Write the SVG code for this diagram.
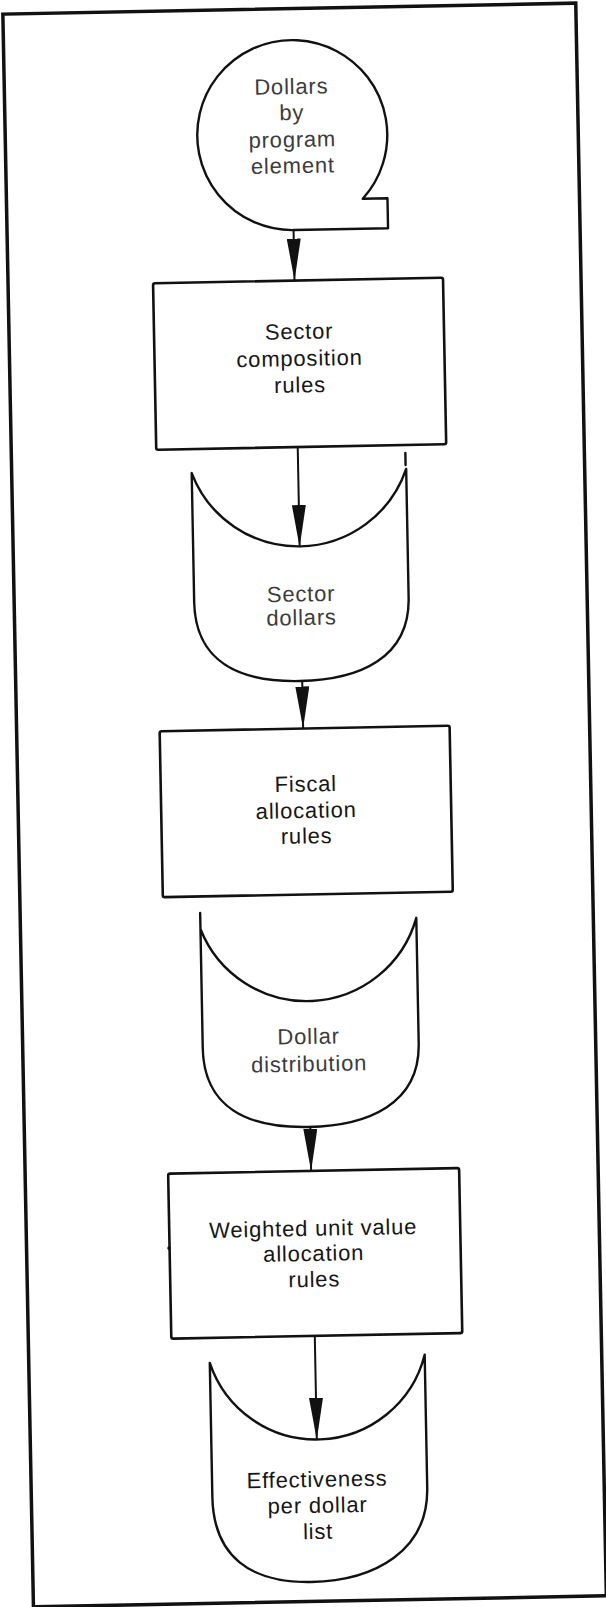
<svg xmlns="http://www.w3.org/2000/svg" width="606" height="1607" viewBox="0 0 606 1607">
  <style>
    .ln { fill: none; stroke: #111; stroke-width: 2.4; stroke-linejoin: round; stroke-linecap: round; }
    .box { fill: none; stroke: #111; stroke-width: 2.6; }
    .frame { fill: none; stroke: #111; stroke-width: 3.5; }
    .arrow { stroke: #111; stroke-width: 2; marker-end: url(#ah); }
    .t { font-family: "Liberation Sans", Arial, sans-serif; font-size: 22px; letter-spacing: 0.8px; text-anchor: middle; fill: #161616; }
    .g { fill: #3c3c3c; }
  </style>
  <defs>
    <marker id="ah" viewBox="0 0 42 14" refX="42" refY="7" markerWidth="42" markerHeight="14" markerUnits="userSpaceOnUse" orient="auto">
      <path d="M0,0 L42,7 L0,14 Z" fill="#111"/>
    </marker>
  </defs>

  <rect x="0" y="0" width="606" height="1607" fill="#fff"/>

  <!-- whole sheet sits slightly skewed on the page -->
  <g transform="rotate(-1.1 303 800)">
    <rect class="frame" x="18" y="8.5" width="573" height="1593"/>

    <!-- magnetic tape: dollars by program element -->
    <g id="tape-dollars">
      <path class="ln" d="M374.3,200 L399,200 L399,230 L305,230 A95,95 0 1,1 374.3,200 Z"/>
      <text class="t g" x="305" y="94">Dollars</text>
      <text class="t g" x="305" y="120">by</text>
      <text class="t g" x="305" y="147">program</text>
      <text class="t g" x="305" y="173">element</text>
    </g>

    <!-- process: sector composition rules -->
    <g id="proc-sector">
      <rect class="box" x="163" y="280.5" width="290" height="166.5" rx="2"/>
      <text class="t" x="308" y="339">Sector</text>
      <text class="t" x="308" y="366">composition</text>
      <text class="t" x="308" y="392.5">rules</text>
    </g>

    <!-- storage: sector dollars -->
    <g id="store-sector">
      <path class="ln" d="M198,471 A114,114 0 0,0 412.5,471 M198,471 L198,600 C198,660 242,681 302,681 C362,681 412.5,660 412.5,600 L412.5,471 M412,467 L412,455"/>
      <text class="t g" x="305" y="601.5">Sector</text>
      <text class="t g" x="305" y="625">dollars</text>
    </g>

    <!-- process: fiscal allocation rules -->
    <g id="proc-fiscal">
      <rect class="box" x="161" y="728.5" width="290" height="166" rx="2"/>
      <text class="t" x="306" y="791.5">Fiscal</text>
      <text class="t" x="306" y="818">allocation</text>
      <text class="t" x="306" y="843.5">rules</text>
    </g>

    <!-- storage: dollar distribution -->
    <g id="store-distribution">
      <path class="ln" d="M198,927 A114,114 0 0,0 414,920 M198,911 L198,1046 C198,1106 242,1127 302,1127 C362,1127 414,1106 414,1046 L414,920"/>
      <text class="t g" x="304" y="1044">Dollar</text>
      <text class="t g" x="304" y="1071.5">distribution</text>
    </g>

    <!-- process: weighted unit value allocation rules -->
    <g id="proc-weighted">
      <rect class="box" x="161" y="1171" width="291" height="165" rx="2"/>
      <circle cx="160.5" cy="1245.5" r="1.8" fill="#111"/>
      <text class="t" x="305" y="1236">Weighted unit value</text>
      <text class="t" x="305" y="1261">allocation</text>
      <text class="t" x="305" y="1287">rules</text>
    </g>

    <!-- storage: effectiveness per dollar list -->
    <g id="store-effectiveness">
      <path class="ln" d="M199,1361 A112,112 0 0,0 414,1357 M199,1361 L199,1495 C199,1555 236,1582 296,1582 C360,1582 414,1553 414,1490 L414,1357"/>
      <text class="t" x="304" y="1487">Effectiveness</text>
      <text class="t" x="304" y="1513">per dollar</text>
      <text class="t" x="304" y="1539">list</text>
    </g>

    <!-- flow connectors -->
    <g id="connectors">
      <line class="arrow" x1="304.5" y1="230" x2="304.5" y2="280.5"/>
      <line class="arrow" x1="304.5" y1="447" x2="304.5" y2="547"/>
      <line class="arrow" x1="304.5" y1="681" x2="304.5" y2="728.5"/>
      <line class="arrow" x1="304" y1="1127" x2="304" y2="1171"/>
      <line class="arrow" x1="304.5" y1="1336" x2="304.5" y2="1440"/>
    </g>
  </g>
</svg>
